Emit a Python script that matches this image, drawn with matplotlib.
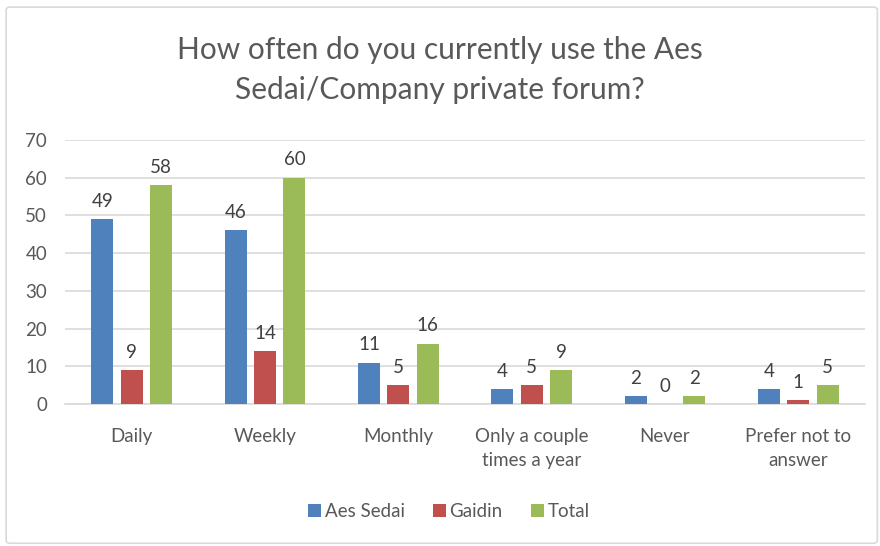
import numpy as np
import matplotlib.pyplot as plt
from matplotlib.patches import FancyBboxPatch

plt.rcParams['font.family'] = ['Lato', 'DejaVu Sans']

# data
categories = ["Daily", "Weekly", "Monthly", "Only a couple\ntimes a year", "Never", "Prefer not to\nanswer"]
aes_sedai = [49, 46, 11, 4, 2, 4]
gaidin = [9, 14, 5, 5, 0, 1]
total = [58, 60, 16, 9, 2, 5]
series_names = ["Aes Sedai", "Gaidin", "Total"]
colors = ["#4F81BD", "#C0504D", "#9BBB59"]
text_col = "#595959"

fig = plt.figure(figsize=(8.8, 5.46), dpi=100)
# chart area border
fig.patches.append(FancyBboxPatch((0.007, 0.005), 0.99, 0.982, boxstyle="round,pad=0,rounding_size=0.005",
                                  transform=fig.transFigure, fill=False, edgecolor="#D9D9D9", linewidth=1.2))

ax = fig.add_axes([0.074, 0.26, 0.909, 0.484])
x = np.arange(len(categories))
w = 0.165
step = 0.22
for i, (vals, name, c) in enumerate(zip([aes_sedai, gaidin, total], series_names, colors)):
    pos = x + (i - 1) * step
    ax.bar(pos, vals, width=w, color=c, label=name, zorder=3)
    for xp, v in zip(pos, vals):
        ax.text(xp, v + 2.5, str(v), ha="center", va="bottom", fontsize=13.5, color="#404040")

ax.set_ylim(0, 70)
ax.set_xlim(-0.5, len(categories) - 0.5)
ax.set_yticks(range(0, 71, 10))
ax.yaxis.grid(True, color="#D9D9D9", linewidth=1.2, zorder=0)
for s in ["top", "right", "left"]:
    ax.spines[s].set_visible(False)
ax.spines["bottom"].set_color("#D9D9D9")
ax.spines["bottom"].set_linewidth(1.2)
ax.tick_params(axis="both", length=0, labelsize=13.5, colors=text_col)
ax.tick_params(axis="y", pad=13)
ax.set_xticks(x)
ax.set_xticklabels(categories, linespacing=1.5, va="top")
ax.xaxis.set_tick_params(pad=17)

fig.text(0.5, 0.872, "How often do you currently use the Aes\nSedai/Company private forum?",
         ha="center", va="center", fontsize=21.5, color=text_col, linespacing=1.5)

leg = fig.legend(loc="center", bbox_to_anchor=(0.51, 0.063), ncol=3, frameon=False,
                 fontsize=13.5, handlelength=0.7, handleheight=0.7, handletextpad=0.2, columnspacing=1.5)
for t in leg.get_texts():
    t.set_color(text_col)

fig.savefig("out.png", dpi=100)
